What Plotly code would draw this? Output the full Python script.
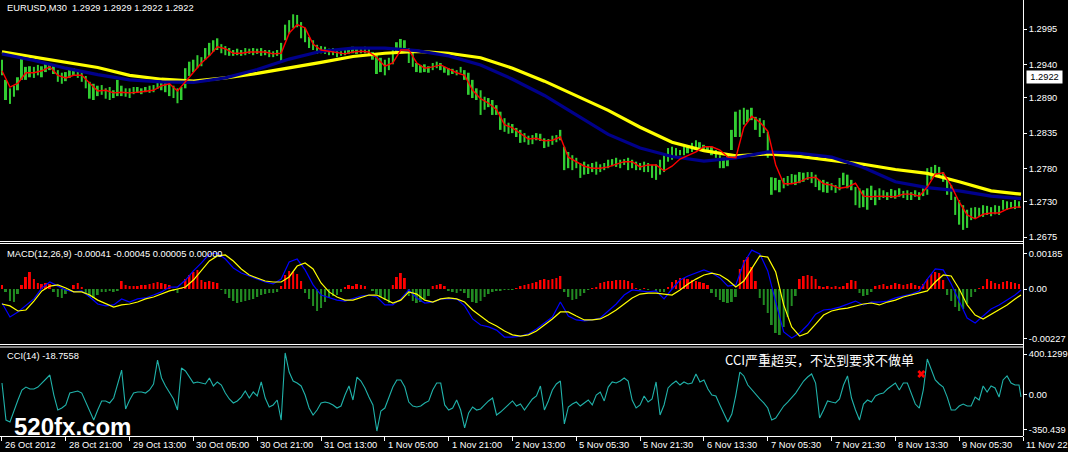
import plotly.graph_objects as go

# ---------------- DATA ----------------
PT = 1e-4   # price arrays are in units of 0.0001
M5 = 1e-5   # MACD arrays are in units of 0.00001

price_title = "EURUSD,M30  1.2929 1.2929 1.2922 1.2922"
macd_title = "MACD(12,26,9) -0.00041 -0.00045 0.00005 0.00000"
cci_title = "CCI(14) -18.7558"
note_text = "CCI严重超买，不达到要求不做单"
watermark = "520fx.com"
last_price = "1.2922"

time_labels = ["26 Oct 2012", "28 Oct 21:00", "29 Oct 13:00", "30 Oct 05:00", "30 Oct 21:00",
               "31 Oct 13:00", "1 Nov 05:00", "1 Nov 21:00", "2 Nov 13:00", "5 Nov 05:30",
               "5 Nov 21:30", "6 Nov 13:30", "7 Nov 05:30", "7 Nov 21:30", "8 Nov 13:30",
               "9 Nov 05:30", "11 Nov 22:00"]
time_label_bars = list(range(0, 513, 32))

price_ticks = [1.2995, 1.2940, 1.2890, 1.2835, 1.2780, 1.2730, 1.2675]
macd_tick_vals = [0.001478, 0.0, -0.002041]
macd_tick_text = ["0.00185", "0.00", "-0.00227"]
cci_tick_vals = [345, 0, -299]
cci_tick_text = ["400.1299", "0.00", "-350.439"]

# price bars (every 2nd M30 bar)
bar_high = [
12948,12917,12904,12908,12921,12952,12937,12938,12937,12940,
12938,12943,12941,12938,12932,12928,12929,12934,12935,12932,
12929,12923,12914,12911,12908,12909,12904,12906,12901,12917,
12908,12904,12904,12906,12906,12904,12906,12908,12909,12914,
12914,12912,12911,12908,12904,12906,12935,12945,12948,12955,
12952,12966,12974,12978,12981,12972,12969,12966,12963,12965,
12963,12966,12965,12966,12965,12966,12963,12963,12961,12963,
12974,13002,13009,13018,13017,13006,12997,12983,12978,12971,
12969,12968,12965,12966,12963,12961,12965,12966,12968,12966,
12966,12968,12965,12960,12955,12951,12948,12951,12963,12975,
12980,12978,12966,12960,12943,12940,12941,12938,12943,12945,
12943,12937,12935,12934,12932,12937,12932,12928,12917,12904,
12901,12891,12889,12886,12878,12868,12858,12851,12849,12843,
12840,12835,12831,12832,12835,12834,12827,12826,12831,12832,
12840,12814,12806,12801,12797,12789,12791,12787,12789,12791,
12787,12789,12794,12795,12797,12794,12795,12797,12794,12791,
12789,12791,12789,12786,12787,12794,12804,12812,12814,12812,
12809,12814,12815,12820,12824,12821,12817,12815,12814,12809,
12801,12797,12801,12840,12868,12871,12874,12871,12874,12860,
12858,12855,12837,12767,12766,12763,12766,12769,12772,12771,
12775,12774,12775,12775,12771,12763,12763,12760,12758,12755,
12766,12774,12771,12763,12752,12750,12747,12750,12754,12747,
12750,12747,12744,12749,12747,12750,12746,12747,12744,12747,
12744,12750,12781,12783,12786,12783,12775,12767,12755,12737,
12732,12724,12717,12720,12721,12720,12724,12723,12721,12724,
12723,12732,12730,12729,12732,12730]
bar_low = [
12924,12886,12880,12891,12901,12917,12917,12921,12920,12924,
12921,12929,12932,12926,12914,12911,12915,12920,12923,12920,
12914,12904,12888,12886,12892,12894,12888,12886,12889,12892,
12892,12891,12889,12895,12897,12895,12898,12897,12898,12903,
12901,12898,12892,12889,12881,12886,12904,12923,12929,12935,
12938,12948,12954,12960,12963,12958,12955,12954,12954,12955,
12954,12955,12957,12955,12957,12954,12955,12952,12952,12954,
12945,12978,12988,12997,12998,12981,12975,12966,12963,12957,
12958,12957,12955,12955,12952,12954,12955,12957,12958,12957,
12958,12958,12955,12948,12926,12929,12924,12932,12941,12960,
12963,12966,12943,12937,12929,12928,12929,12928,12932,12935,
12932,12928,12924,12926,12924,12928,12917,12894,12889,12886,
12863,12871,12875,12863,12863,12840,12837,12834,12835,12829,
12820,12821,12817,12818,12824,12823,12812,12814,12817,12821,
12824,12778,12781,12778,12781,12766,12771,12772,12775,12771,
12775,12778,12781,12784,12783,12781,12786,12778,12781,12778,
12778,12775,12775,12766,12763,12771,12775,12791,12794,12797,
12801,12801,12804,12806,12809,12809,12806,12806,12801,12797,
12781,12781,12784,12809,12829,12829,12848,12852,12855,12840,
12829,12835,12797,12740,12747,12744,12750,12754,12757,12755,
12758,12760,12763,12758,12752,12747,12744,12743,12747,12743,
12747,12755,12750,12747,12724,12720,12721,12717,12732,12724,
12732,12735,12732,12735,12734,12737,12735,12732,12732,12737,
12732,12738,12740,12763,12771,12767,12760,12740,12732,12709,
12694,12686,12689,12701,12704,12706,12706,12709,12707,12710,
12709,12717,12717,12720,12718,12720]

# red fast average (every 4th bar + last bar)
ma_fast = [
12931,12906,12912,12928,12928,12931,12937,12924,12920,12924,
12924,12912,12900,12901,12897,12898,12897,12898,12900,12901,
12908,12911,12900,12914,12929,12943,12954,12968,12965,12958,
12958,12960,12960,12960,12957,12958,12989,13002,12997,12972,
12963,12961,12958,12957,12960,12961,12960,12951,12938,12943,
12963,12963,12943,12935,12937,12940,12934,12928,12924,12901,
12888,12881,12871,12848,12843,12834,12826,12827,12823,12824,
12829,12798,12791,12784,12781,12781,12783,12787,12791,12791,
12783,12786,12786,12777,12784,12795,12801,12806,12814,12814,
12809,12798,12797,12844,12861,12852,12838,12786,12757,12757,
12760,12766,12767,12757,12755,12750,12752,12758,12738,12737,
12738,12737,12737,12741,12741,12738,12752,12772,12774,12754,
12729,12709,12703,12710,12712,12712,12718,12721,12721]

# yellow slow average and navy medium average (every 16th bar + last bar)
ma_slow = [12960,12952,12945,12936,12924,12918,12915,12920,12927,12935,
           12944,12953,12958,12961,12958,12951,12935,12915,12893,12870,
           12844,12821,12808,12800,12803,12799,12793,12787,12779,12773,
           12760,12746,12741]
ma_mid = [12957,12947,12935,12925,12917,12914,12913,12920,12933,12949,
          12961,12966,12966,12962,12954,12940,12918,12893,12863,12833,
          12812,12799,12792,12797,12806,12804,12798,12782,12760,12751,
          12746,12738,12734]

# MACD main (blue) and signal (yellow), every 4th bar + last bar
macd_main = [
-58,-116,-95,-66,-41,4,29,12,-4,-12,
-8,-33,-62,-70,-66,-41,-54,-41,-37,-25,
-12,8,8,37,75,108,145,149,124,87,
66,54,41,29,21,41,112,124,79,17,
-25,-37,-46,-50,-41,-29,-25,-33,-66,-66,
-41,-4,-37,-58,-54,-41,-41,-41,-70,-124,
-149,-157,-170,-199,-199,-195,-186,-166,-141,-116,
-54,-112,-128,-132,-128,-120,-91,-62,-25,-4,
-8,-12,-8,-41,0,37,54,66,79,66,
46,12,17,108,161,145,75,-54,-178,-203,
-182,-149,-104,-87,-83,-75,-62,-50,-66,-54,
-54,-50,-37,-29,-21,-8,41,83,79,21,
-50,-120,-141,-112,-83,-66,-46,-25,-4]
macd_signal = [
-62,-70,-91,-87,-50,-8,12,17,4,-12,
-12,-25,-46,-62,-75,-66,-62,-54,-41,-33,
-21,-8,0,8,37,79,116,137,141,116,
83,58,46,33,29,29,50,95,108,83,
25,-12,-33,-46,-46,-37,-25,-25,-41,-58,
-46,-12,-21,-46,-54,-41,-37,-41,-54,-87,
-112,-137,-153,-174,-190,-195,-190,-174,-149,-124,
-95,-95,-112,-128,-128,-124,-108,-87,-62,-37,
-21,-17,-17,-21,-25,-4,21,41,58,66,
58,37,8,33,87,137,132,70,-66,-157,
-195,-182,-145,-108,-91,-83,-79,-70,-62,-58,
-66,-54,-46,-33,-25,-17,-8,29,58,54,
0,-66,-108,-124,-104,-83,-66,-41,-25]
# MACD histogram, every 2nd bar
macd_hist = [
17,-12,-50,-54,-21,17,50,70,41,25,
21,25,21,-12,-33,-37,-21,0,17,25,
8,-21,-33,-37,-25,-12,-12,-8,-12,-8,
33,17,12,12,12,17,17,21,25,29,
25,21,17,-8,-17,4,41,58,70,79,
37,29,33,29,25,-4,-21,-37,-50,-58,
-54,-50,-46,-41,-33,-25,-21,-17,-17,-12,
12,58,75,70,62,33,-17,-41,-70,-91,
-79,-54,-37,-29,-25,-12,8,17,12,21,
17,12,0,-8,-21,-33,-46,-58,17,50,
66,46,-29,-50,-58,-54,-41,-29,12,17,
21,12,-8,-12,-17,-8,-17,-37,-54,-58,
-50,-33,-21,-12,-8,-8,-4,-4,-4,4,
12,17,21,25,29,37,41,37,41,46,
54,-12,-33,-46,-41,-29,-17,-4,4,8,
25,29,33,33,37,37,37,33,25,4,
-4,4,-4,0,-8,-12,-12,8,29,37,
46,46,41,37,33,29,25,17,-17,-33,
-46,-54,-58,-54,-33,83,120,132,91,33,
-37,-66,-99,-149,-182,-190,-157,-116,-70,-29,
41,54,58,54,41,12,8,12,8,12,
8,12,25,37,33,-17,-29,-25,-12,12,
17,21,12,17,25,21,17,21,25,17,
12,21,41,62,70,66,37,-25,-50,-75,
-91,-83,-62,-33,-12,4,12,41,33,25,
21,29,33,29,25,21]

# CCI(14), every 2nd bar + last bar
cci = [
99,-215,-232,-130,-45,40,65,48,48,65,
99,142,167,-3,-130,-113,-87,14,23,31,
14,-62,-147,-215,-130,-53,-53,-70,-28,99,
209,-121,-45,14,23,23,14,40,91,294,
142,74,14,-36,-130,226,201,150,99,108,
99,91,142,74,108,82,14,-36,-70,-53,
-20,31,-28,23,-11,108,-28,-104,-87,-45,
-215,354,192,116,99,74,-3,-113,-172,-130,
-70,-62,-70,-87,-113,-96,-3,74,-45,150,
116,57,-20,-87,-308,-138,-113,-20,65,125,
125,65,-62,-96,-104,-96,-70,-53,40,99,
99,-87,-130,-113,-45,-130,-282,-155,-104,-130,
-121,-87,-53,-28,-172,-147,-113,-79,-53,-96,
-79,-130,-87,-36,-11,74,-130,-53,40,91,
116,-248,-104,-79,-62,-96,-70,-45,-87,-3,
23,-53,65,108,99,116,142,116,-45,-113,
-87,-11,-62,-36,108,-172,-87,57,91,116,
82,108,91,99,176,108,125,48,-3,-11,
-87,-164,-232,-164,-3,192,159,82,40,-3,
-36,-70,-113,-215,-198,-147,-96,-62,-28,14,
65,116,150,176,99,-198,-130,-53,-62,-70,
-36,82,159,-28,-130,-215,-79,-45,-62,-11,
6,14,48,74,99,40,99,99,14,-79,
-113,40,303,209,125,91,65,-20,-130,-130,
-96,-79,-96,-96,-20,-45,74,23,74,57,
-20,125,159,99,82,82,-19]

signal_mark_bar = [461]
signal_mark_cci = [176]

# bar indices (time axis positions)
LAST = 511
bar_x = list(range(0, 512, 2))
line_x = list(range(0, 512, 4)) + [LAST]
ma_x = list(range(0, 512, 16)) + [LAST]
cci_x = bar_x + [LAST]

# ---------------- LAYOUT GEOMETRY ----------------
W, H = 1068, 452
PW, PH = 1026, 436          # plot area (right axis strip & time strip outside)

def fx(px):
    return px / PW

def fy(py):
    return 1 - py / PH

FONT = "Liberation Sans, Arial, sans-serif"
FS = 9.3

fig = go.Figure()

# price panel
fig.add_trace(go.Bar(x=bar_x, base=[l * PT for l in bar_low],
                     y=[(h - l) * PT for h, l in zip(bar_high, bar_low)],
                     width=1.0, marker=dict(color="#32CD32", line=dict(width=0)),
                     yaxis="y", hoverinfo="skip"))
fig.add_trace(go.Scatter(x=ma_x, y=[v * PT for v in ma_slow], mode="lines",
                         line=dict(color="#FFFF00", width=3.2), yaxis="y", hoverinfo="skip"))
fig.add_trace(go.Scatter(x=ma_x, y=[v * PT for v in ma_mid], mode="lines",
                         line=dict(color="#00008B", width=3.2), yaxis="y", hoverinfo="skip"))
fig.add_trace(go.Scatter(x=line_x, y=[v * PT for v in ma_fast], mode="lines",
                         line=dict(color="#FF0000", width=1.4), yaxis="y", hoverinfo="skip"))

# MACD panel
fig.add_trace(go.Bar(x=bar_x, y=[v * M5 for v in macd_hist], width=1.0,
                     marker=dict(color=["#FF0000" if v > 0 else "#228B22" for v in macd_hist],
                                 line=dict(width=0)),
                     yaxis="y2", hoverinfo="skip"))
fig.add_trace(go.Scatter(x=line_x, y=[v * M5 for v in macd_main], mode="lines",
                         line=dict(color="#0000FF", width=1.2), yaxis="y2", hoverinfo="skip"))
fig.add_trace(go.Scatter(x=line_x, y=[v * M5 for v in macd_signal], mode="lines",
                         line=dict(color="#FFFF00", width=1.2), yaxis="y2", hoverinfo="skip"))

# CCI panel
fig.add_trace(go.Scatter(x=cci_x, y=cci, mode="lines",
                         line=dict(color="#20B2AA", width=1.1), yaxis="y3", hoverinfo="skip"))
fig.add_trace(go.Scatter(x=signal_mark_bar, y=signal_mark_cci, mode="markers",
                         marker=dict(symbol="x", size=7, color="#FF0000"),
                         yaxis="y3", hoverinfo="skip"))

yax_common = dict(side="right", anchor="x", showgrid=False, zeroline=False,
                  ticks="outside", ticklen=3, tickcolor="white", tickwidth=1,
                  showline=False, tickfont=dict(family=FONT, size=FS, color="white"),
                  fixedrange=True)

fig.update_layout(
    width=W, height=H,
    margin=dict(l=0, r=W - PW, t=0, b=H - PH),
    paper_bgcolor="black", plot_bgcolor="black",
    showlegend=False, barmode="overlay",
    xaxis=dict(range=[-1, 512], showgrid=False, zeroline=False, anchor="y3",
               showline=True, linecolor="white", linewidth=1,
               ticks="outside", ticklen=4, tickcolor="white",
               tickvals=time_label_bars, showticklabels=False, fixedrange=True),
    yaxis=dict(domain=[fy(241), 1], range=[1.3040 - 0.000154 * 241, 1.3040],
               tickvals=price_ticks, ticktext=[f"{v:.4f}" for v in price_ticks], **yax_common),
    yaxis2=dict(domain=[fy(343.5), fy(244)], range=[-0.002256, 0.001863],
                tickvals=macd_tick_vals, ticktext=macd_tick_text, **yax_common),
    yaxis3=dict(domain=[0, fy(347.5)], range=[-350.2, 400.3],
                tickvals=cci_tick_vals, ticktext=cci_tick_text, **yax_common),
)

# panel frames
line_style = dict(color="white", width=1)
shapes = []
for ypx in [241.5, 243.5, 344.5, 347.0]:
    shapes.append(dict(type="line", xref="paper", yref="paper", x0=0, x1=1,
                       y0=fy(ypx), y1=fy(ypx), line=line_style))
shapes.append(dict(type="line", xref="paper", yref="paper", x0=fx(1026.5), x1=fx(1026.5),
                   y0=0, y1=1, line=line_style))
fig.update_layout(shapes=shapes)

ann = []
def text(x, y, s, size=FS, color="white", family=FONT, xanchor="left", **kw):
    ann.append(dict(x=fx(x), y=fy(y), xref="paper", yref="paper", text=s, showarrow=False,
                    xanchor=xanchor, yanchor="middle",
                    font=dict(family=family, size=size, color=color), **kw))

text(5, 7.5, price_title)
text(5, 254, macd_title)
text(5, 356, cci_title)
text(725, 359, note_text, size=13, family="Noto Sans CJK SC, sans-serif")
text(12, 426, "<b>" + watermark + "</b>", size=24)
text(1029, 77, last_price, color="black", bgcolor="white", width=33, height=10, align="center")
for b, lab in zip(time_label_bars, time_labels):
    text(2 + 2 * b + 1, 445, lab)
fig.update_layout(annotations=ann)

fig.write_html("out.html", config={"displayModeBar": False},
               post_script="document.body.style.margin='0';document.body.style.background='black';")
